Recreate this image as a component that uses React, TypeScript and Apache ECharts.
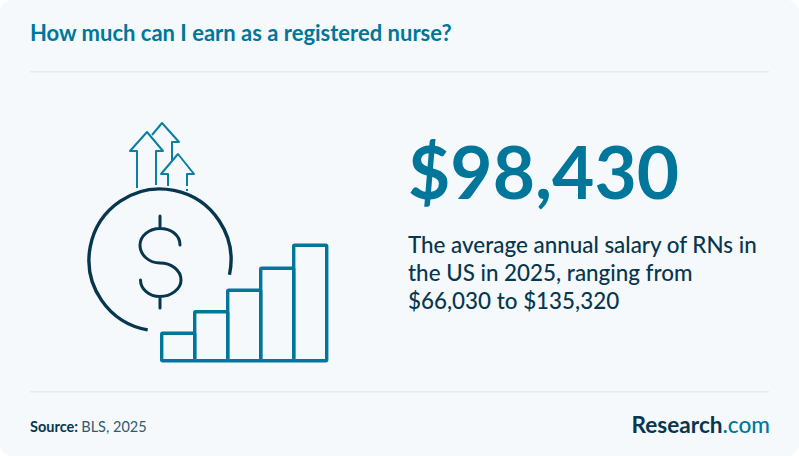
import { useEffect, useRef } from 'react';
import * as echarts from 'echarts';

const stairSteps = ['1', '2', '3', '4', '5'];
const stairValues = [31, 52.5, 74, 96, 119];

const titleText = 'How much can I earn as a registered nurse?';
const headline = '$98,430';
const descLines = [
  'The average annual salary of RNs in',
  'the US in 2025, ranging from',
  '$66,030 to $135,320',
];

const TEAL = '#00769a';
const NAVY = '#06374f';
const FONT = 'Lato, "Noto Sans", sans-serif';

// dollar sign in page coordinates
const dollarPath =
  'M180 245 C180 235 171 228.5 160 228.5 C149 228.5 140 236 140 245 C140 255 149 263 160 263 ' +
  'C171 263 181 270 181 280 C181 289 171 296.5 160 296.5 C149 296.5 140.5 289 140.5 280 ' +
  'M160 216 L160 228.5 M160 296.5 L160 308';
echarts.graphic.registerShape('dollar', (echarts.graphic as any).extendPath(dollarPath, {}));

const arrowLeft = [[137, 188], [137, 151], [130, 151], [147, 132], [163, 151], [156, 151], [156, 185]];
const arrowMid = [[152, 135], [162, 123], [179, 142], [172, 142], [172, 160]];
const arrowRight = [[168, 186], [168, 174], [161, 174], [178, 154], [194, 174], [187, 174], [187, 186]];
const arrowDot = [[187, 189], [187, 191]];

export default function App() {
  const chartRef = useRef<HTMLDivElement>(null);

  useEffect(() => {
    document.body.style.margin = '0';
    if (!chartRef.current) return;
    const chart = echarts.init(chartRef.current, undefined, { renderer: 'svg' });

    const arrow = (points: number[][]) => ({
      type: 'polyline',
      shape: { points },
      style: { fill: 'none', stroke: '#0a7ea4', lineWidth: 2, lineJoin: 'round' },
    });

    const option: any = {
      animation: false,
      grid: { left: 161.7, top: 243.5, width: 165, height: 119 },
      xAxis: { type: 'category', data: stairSteps, show: false },
      yAxis: { type: 'value', min: 0, max: 119, show: false },
      series: [
        {
          type: 'bar',
          data: stairValues,
          barWidth: 36.4,
          clip: false,
          silent: true,
          z: 5,
          itemStyle: { color: 'transparent', borderColor: TEAL, borderWidth: 3.4, borderRadius: 1 },
        },
      ],
      graphic: [
        {
          type: 'rect',
          z: -10,
          shape: { x: 0, y: 0, width: 799, height: 456, r: 12 },
          style: { fill: '#f5f9fb' },
        },
        { type: 'rect', shape: { x: 30, y: 71, width: 739, height: 1.5 }, style: { fill: '#e8ebee' } },
        { type: 'rect', shape: { x: 30, y: 391, width: 739, height: 1.5 }, style: { fill: '#e8ebee' } },
        {
          type: 'text',
          x: 30,
          y: 21,
          style: { text: titleText, fill: TEAL, font: `700 22px ${FONT}` },
        },
        {
          type: 'text',
          x: 408,
          y: 134,
          style: { text: headline, fill: TEAL, font: `700 73px ${FONT}` },
        },
        ...descLines.map((line, i) => ({
          type: 'text',
          x: 408,
          y: 233 + i * 28,
          style: { text: line, fill: NAVY, font: `500 22.4px ${FONT}` },
        })),
        {
          type: 'text',
          x: 30,
          y: 419,
          style: {
            rich: {
              b: { font: `700 14.5px ${FONT}`, fill: NAVY },
              r: { font: `400 14.5px ${FONT}`, fill: '#2f5a70' },
            },
            text: '{b|Source:} {r|BLS, 2025}',
          },
        },
        {
          type: 'text',
          x: 770,
          y: 413,
          style: {
            rich: {
              a: { font: `700 22.6px ${FONT}`, fill: NAVY },
              c: { font: `500 22.6px ${FONT}`, fill: TEAL },
            },
            text: '{a|Research}{c|.com}',
            align: 'right',
          },
        },
        arrow(arrowLeft),
        arrow(arrowMid),
        arrow(arrowRight),
        arrow(arrowDot),
        {
          type: 'arc',
          shape: {
            cx: 160,
            cy: 260,
            r: 71,
            startAngle: (100 * Math.PI) / 180,
            endAngle: (372 * Math.PI) / 180,
            clockwise: true,
          },
          style: { fill: 'none', stroke: NAVY, lineWidth: 3.4 },
        },
        {
          type: 'dollar',
          style: { fill: 'none', stroke: NAVY, lineWidth: 3, lineCap: 'round' },
        },
      ],
    };

    chart.setOption(option);
    return () => chart.dispose();
  }, []);

  return <div ref={chartRef} style={{ width: 799, height: 456 }} />;
}
